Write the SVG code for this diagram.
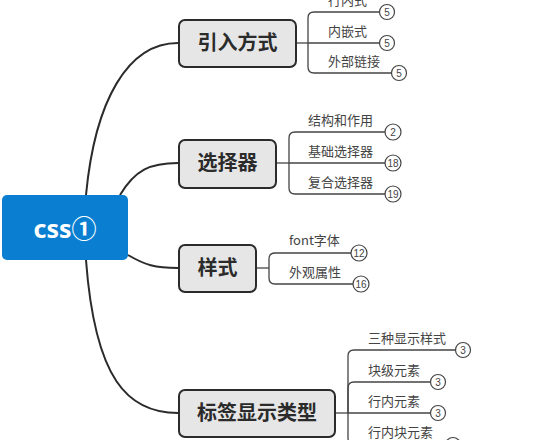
<svg xmlns="http://www.w3.org/2000/svg" width="537" height="440" viewBox="0 0 537 440">
<style>
.main{fill:none;stroke:#2b2b2b;stroke-width:2}
.sub{fill:none;stroke:#444;stroke-width:1.3}
.box{fill:#e6e6e6;stroke:#2b2b2b;stroke-width:2}
.bt{font-family:"Noto Sans CJK SC","Noto Sans",sans-serif;font-weight:bold;font-size:20px;fill:#2b2b2b;text-anchor:middle}
.lt{font-family:"Noto Sans CJK SC","Noto Sans",sans-serif;font-size:13px;fill:#444}
.cc{fill:#fff;stroke:#444;stroke-width:1.2}
.ct{font-family:"Liberation Sans","Noto Sans",sans-serif;font-size:10px;fill:#444;text-anchor:middle}
</style>
<rect width="537" height="440" fill="#fff"/>
<g id="connectors">
<path class="main" d="M86,195 C95,100 128,43 178,43"/>
<path class="main" d="M120,195 C135,170 150,163 178,163"/>
<path class="main" d="M128,255 C145,265 155,268 178,268"/>
<path class="main" d="M86,260 C95,380 128,413 178,413"/>
<!-- 引入方式 -->
<path class="sub" d="M296,43 H308"/>
<path class="sub" d="M308,43 V18 Q308,12 314,12 H379"/>
<path class="sub" d="M308,43 H379"/>
<path class="sub" d="M308,43 V67 Q308,73 314,73 H391"/>
<!-- 选择器 -->
<path class="sub" d="M276,163 H289"/>
<path class="sub" d="M289,163 V138 Q289,132 295,132 H385"/>
<path class="sub" d="M289,163 H385"/>
<path class="sub" d="M289,163 V188 Q289,194 295,194 H385"/>
<!-- 样式 -->
<path class="sub" d="M256,268 H269"/>
<path class="sub" d="M269,268 V259 Q269,253 275,253 H351"/>
<path class="sub" d="M269,268 V278 Q269,284 275,284 H353"/>
<!-- 标签显示类型 -->
<path class="sub" d="M335,413 H348"/>
<path class="sub" d="M348,413 V356 Q348,350 354,350 H455"/>
<path class="sub" d="M348,413 V388 Q348,382 354,382 H430"/>
<path class="sub" d="M348,413 H430"/>
<path class="sub" d="M348,413 V438 Q348,444 354,444 H445"/>
</g>
<g id="root">
<rect x="2" y="195" width="126" height="65" rx="5" fill="#0a7fd1"/>
<text x="65" y="238" font-family="'Noto Sans','Noto Sans CJK SC',sans-serif" font-weight="bold" font-size="25" fill="#fff" text-anchor="middle">css①</text>
</g>
<g id="n-yinru">
<rect class="box" x="179" y="20" width="117" height="47" rx="6"/>
<text class="bt" x="237.5" y="50">引入方式</text>
</g>
<g id="n-xuanze">
<rect class="box" x="179" y="140" width="97" height="48" rx="6"/>
<text class="bt" x="227.5" y="170">选择器</text>
</g>
<g id="n-yangshi">
<rect class="box" x="179" y="245" width="77" height="47" rx="6"/>
<text class="bt" x="217.5" y="275">样式</text>
</g>
<g id="n-biaoqian">
<rect class="box" x="179" y="390" width="156" height="47" rx="6"/>
<text class="bt" x="257" y="420">标签显示类型</text>
</g>
<g id="leaf-hangneishi"><text class="lt" x="328" y="5">行内式</text><circle class="cc" cx="387" cy="12" r="7.5"/><text class="ct" x="387" y="15.5">5</text></g>
<g id="leaf-neiqianshi"><text class="lt" x="328" y="36">内嵌式</text><circle class="cc" cx="387" cy="43" r="7.5"/><text class="ct" x="387" y="46.5">5</text></g>
<g id="leaf-waibu"><text class="lt" x="328" y="66">外部链接</text><circle class="cc" cx="399" cy="73" r="7.5"/><text class="ct" x="399" y="76.5">5</text></g>
<g id="leaf-jiegou"><text class="lt" x="308" y="125">结构和作用</text><circle class="cc" cx="393" cy="132" r="8"/><text class="ct" x="393" y="135.5">2</text></g>
<g id="leaf-jichu"><text class="lt" x="308" y="156">基础选择器</text><circle class="cc" cx="393" cy="163" r="8"/><text class="ct" x="393" y="166.5">18</text></g>
<g id="leaf-fuhe"><text class="lt" x="308" y="187">复合选择器</text><circle class="cc" cx="393" cy="194" r="8"/><text class="ct" x="393" y="197.5">19</text></g>
<g id="leaf-font"><text class="lt" x="289" y="245">font字体</text><circle class="cc" cx="359" cy="253" r="8"/><text class="ct" x="359" y="256.5">12</text></g>
<g id="leaf-waiguan"><text class="lt" x="289" y="277">外观属性</text><circle class="cc" cx="361" cy="284" r="8"/><text class="ct" x="361" y="287.5">16</text></g>
<g id="leaf-sanzhong"><text class="lt" x="368" y="343">三种显示样式</text><circle class="cc" cx="463" cy="350" r="7.5"/><text class="ct" x="463" y="353.5">3</text></g>
<g id="leaf-kuaiji"><text class="lt" x="368" y="375">块级元素</text><circle class="cc" cx="438" cy="382" r="7.5"/><text class="ct" x="438" y="385.5">3</text></g>
<g id="leaf-hangnei"><text class="lt" x="368" y="406">行内元素</text><circle class="cc" cx="438" cy="413" r="7.5"/><text class="ct" x="438" y="416.5">3</text></g>
<g id="leaf-hangneikuai"><text class="lt" x="368" y="437">行内块元素</text><circle class="cc" cx="453" cy="445" r="7.5"/><text class="ct" x="453" y="448.5">3</text></g>
</svg>
